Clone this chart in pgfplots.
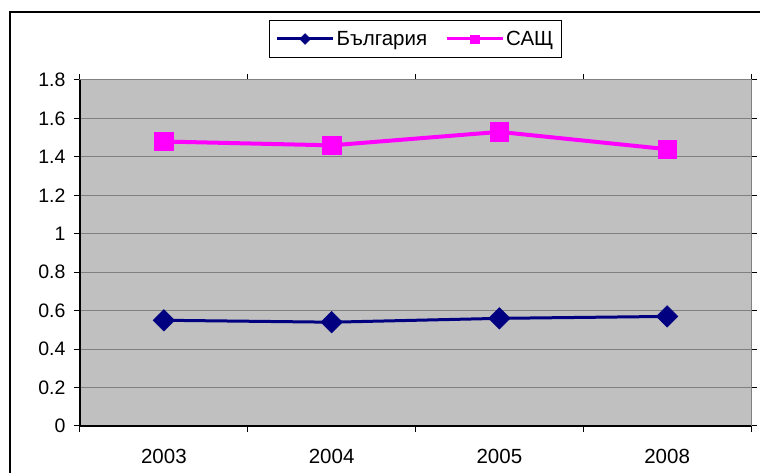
\documentclass[border=0pt]{standalone}
\usepackage{pgfplots}
\pgfplotsset{compat=1.18}
\usepackage{fontspec}
\setmainfont{Liberation Sans}
\definecolor{bgnavy}{RGB}{0,0,128}
\definecolor{usmag}{RGB}{255,0,255}
\definecolor{plotgray}{RGB}{192,192,192}
\definecolor{gridgray}{RGB}{128,128,128}

\begin{document}
\begin{tikzpicture}[x=1pt,y=1pt]
\begin{axis}[
  scale only axis, width=671pt, height=346pt,
  xmin=0.5, xmax=4.5, ymin=0, ymax=1.8,
  axis background/.style={fill=plotgray},
  axis line style={draw=gridgray, line width=1pt},
  ytick={0,0.2,0.4,0.6,0.8,1,1.2,1.4,1.6,1.8},
  xtick={0.5,1.5,2.5,3.5,4.5},
  xticklabels={},
  extra x ticks={1,2,3,4},
  extra x tick labels={2003,2004,2005,2008},
  extra x tick style={major tick length=0pt, grid=none,
    xticklabel style={yshift=-20pt}},
  tick align=outside,
  major tick length=6pt,
  tick style={black, line width=1pt},
  ymajorgrids,
  grid style={gridgray, line width=1pt},
  /pgf/number format/assume math mode=true,
  yticklabel style={font=\fontsize{19.5}{22}\selectfont, xshift=-5pt},
  xticklabel style={font=\fontsize{20.5}{24}\selectfont},
  legend style={at={(0.5,1.1185)}, anchor=center, legend columns=2,
    draw=black, line width=1pt, fill=white,
    font=\fontsize{20.5}{24}\selectfont,
    inner xsep=6pt, inner ysep=9pt,
    /tikz/every even column/.append style={column sep=16pt}},
  legend image code/.code={
    \draw[mark repeat=2, mark phase=2, #1]
      plot coordinates {(0pt,0pt) (28pt,0pt) (56pt,0pt)};
  },
  clip=false,
]
\addplot[bgnavy, line width=3pt, mark=square*, mark size=7.6pt,
  mark options={rotate=45, line width=0.5pt}, forget plot]
  coordinates {(1,0.55) (2,0.54) (3,0.56) (4,0.57)};
\addplot[usmag, line width=4pt, mark=square*, mark size=9.2pt,
  mark options={line width=0.5pt}, forget plot]
  coordinates {(1,1.48) (2,1.46) (3,1.53) (4,1.44)};
\addlegendimage{bgnavy, line width=3pt, mark=square*, mark size=3.8pt,
  mark options={rotate=45, line width=0.5pt}}
\addlegendentry{България}
\addlegendimage{usmag, line width=3pt, mark=square*, mark size=4.2pt,
  mark options={line width=0.5pt}}
\addlegendentry{САЩ}
\draw[black, line width=1.3pt] (rel axis cs:0,1) -- (rel axis cs:0,0) -- (rel axis cs:1,0);
\coordinate (sw) at (rel axis cs:0,0);
\end{axis}
% page = 760 x 473, axis box corner 80 from the left and 47 from the bottom
\pgfresetboundingbox
\path[use as bounding box, shift={(sw)}] (-80,-47) rectangle (680,426);
% outer chart frame (right and bottom edges fall outside the picture)
\draw[line width=1.5pt, shift={(sw)}] (-70,-60) -- (-70,414) -- (700,414);
\end{tikzpicture}
\end{document}
